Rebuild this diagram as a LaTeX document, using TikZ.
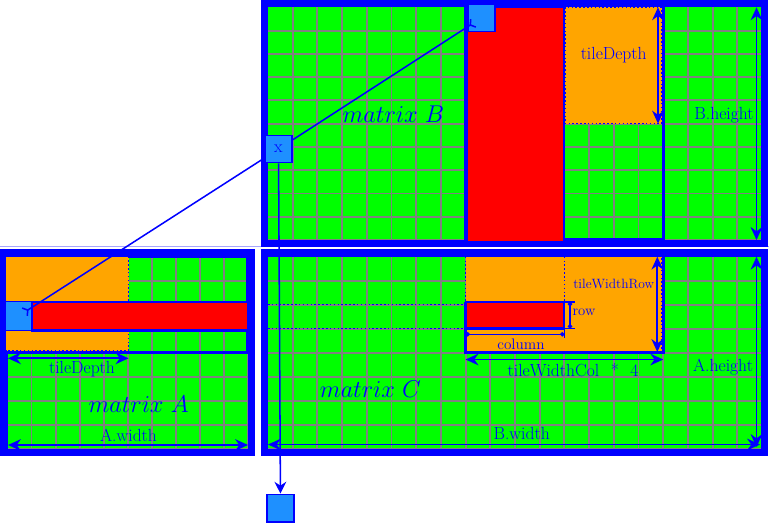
\documentclass[tikz,border=0pt]{standalone}
\usepackage{tikz}
\usetikzlibrary{arrows.meta}
\definecolor{cellgreen}{HTML}{00FF00}
\definecolor{tilered}{HTML}{FF0000}
\definecolor{tileorange}{HTML}{FFA500}
\definecolor{elemblue}{HTML}{1E90FF}
\definecolor{gridgray}{HTML}{808080}

\begin{document}
\begin{tikzpicture}[x=0.03cm, y=-0.03cm,
    every node/.style={font=\fontsize{15}{18}\selectfont, text=blue, inner sep=1pt},
    frame/.style={draw=blue, line width=6.4pt},
    cellline/.style={draw=gridgray, line width=1.6pt},
    tileedge/.style={draw=blue, line width=2.6pt},
    tilefill/.style={fill=tileorange, draw=blue, line width=1.3pt, dotted},
    strip/.style={fill=tilered, draw=blue, line width=1.8pt},
    guide/.style={draw=blue, line width=1.3pt, dotted},
    dimline/.style={{Stealth[length=11pt,width=10pt]}-{Stealth[length=11pt,width=10pt]}, draw=blue, line width=1.5pt},
    tick/.style={{Circle[length=3.6pt]}-{Circle[length=3.6pt]}, draw=blue, line width=1.3pt},
    elem/.style={draw=blue, fill=elemblue, line width=1.4pt, minimum size=0.82cm, inner sep=0pt},
    link/.style={draw=blue, line width=1.3pt},
    mlabel/.style={font=\fontsize{21}{24}\selectfont}]
  \useasboundingbox (0,0) rectangle (769,524);
  % matrices B, A, C: left/top/cols/rows/cell width/cell height
  \foreach \l/\t/\nc/\nr/\cw/\ch in {268/7.3/20/10/24.7/23.27, 7.5/256.7/10/8/24.05/24, 268/256.7/20/8/24.7/24}{
    \fill[cellgreen] (\l,\t) rectangle ++({\nc*\cw},{\nr*\ch});
    \foreach \i in {1,...,\nc} \draw[cellline] ({\l+\i*\cw},\t) -- ++(0,{\nr*\ch});
    \foreach \j in {1,...,\nr} \draw[cellline] (\l,{\t+\j*\ch}) -- ++({\nc*\cw},0);
  }
  \draw[blue!35, line width=0.6pt] (0,246.5) -- (769,246.5);
  % frames
  \draw[frame] (264.7,3.7) rectangle (764.3,243.6);
  \draw[frame] (3.8,252.8) rectangle (251.6,452.6);
  \draw[frame] (264.7,252.8) rectangle (764.3,452.6);
  % tiles
  \draw[tileedge] (7.5,256.7) rectangle (248,352.7);
  \draw[tileedge] (465.6,7.3) rectangle (663.2,240);
  \filldraw[tilefill] (565,7.3) rectangle (661.5,123.6);
  \filldraw[tilefill] (5.5,256.7) rectangle (128.5,350.5);
  \filldraw[tilefill] (465.6,256.7) rectangle (661.8,351.5);
  \draw[tileedge] (465.6,302) |- (663.2,352.7) -- (663.2,256.7);
  \filldraw[strip] (467,6.8) rectangle (563.8,242.5);
  \filldraw[strip] (31.7,302) rectangle (248.3,330.5);
  \filldraw[strip] (465.6,302) rectangle (564.4,328.5);
  % guides in C
  \draw[guide] (268,304.5) -- (465.6,304.5);
  \draw[guide] (268,328.5) -- (465.6,328.5);
  \draw[guide] (564.4,256.7) -- (564.4,302);
  % row / column marks
  \draw[tick] (570,302) -- (570,328.5);
  \draw[link] (564.4,302) -- (575,302) (564.4,328.5) -- (575,328.5);
  \draw[tick] (465.6,334.3) -- (564.4,334.3);
  \draw[link] (465.6,328.5) -- (465.6,338) (564.4,328.5) -- (564.4,338);
  % dimensions
  \draw[dimline] (658,7.3) -- (658,123.6);
  \draw[dimline] (756.5,7.3) -- (756.5,240);
  \draw[dimline] (8,358.3) -- (128.5,358.3);
  \draw[dimline] (8,445) -- (248,445);
  \draw[dimline] (657.3,256.7) -- (657.3,352);
  \draw[dimline] (465.6,359.5) -- (663.2,359.5);
  \draw[dimline] (756.5,256.7) -- (756.5,447);
  \draw[dimline] (268,444.5) -- (760,444.5);
  % labels
  \node[mlabel] (labB) at (393.5,114) {$matrix\ B$};
  \node[mlabel] (labA) at (138.7,404) {$matrix\ A$};
  \node[mlabel] (labC) at (370.5,389) {$matrix\ C$};
  \node (depthB) at (613.7,55) {tileDepth};
  \node (heightB) at (724,115) {B.height};
  \node (depthA) at (82,369) {tileDepth};
  \node (widthA) at (128.5,435) {A.width};
  \node[font=\fontsize{11.5}{13}\selectfont] (rowsC) at (613.7,284) {tileWidthRow};
  \node[font=\fontsize{12.5}{14}\selectfont] (rowC) at (584,312) {row};
  \node[font=\fontsize{13}{15}\selectfont] (colC) at (521,344) {column};
  \node (colsC) at (573,370) {tileWidthCol\hspace{0.65em}*\hspace{0.65em}4};
  \node (heightA) at (723,367) {A.height};
  \node (widthB) at (521.7,433) {B.width};
  % elements
  \node[elem] (bel) at (481.5,17.8) {};
  \node[elem, minimum height=0.87cm] (ael) at (18.5,316) {};
  \node[elem] (xel) at (278.5,149) {x};
  \node[elem] (cel) at (280.5,508) {};
  \draw[link, -{Straight Barb[reversed,length=3pt,width=8pt]}, shorten >=-7pt] (xel) -- (bel);
  \draw[link, -{Straight Barb[reversed,length=3pt,width=8pt]}, shorten >=-9pt] (xel) -- (ael);
  \draw[link, -{Stealth[length=10pt,width=10pt]}] (xel) -- (cel);
\end{tikzpicture}
\end{document}
